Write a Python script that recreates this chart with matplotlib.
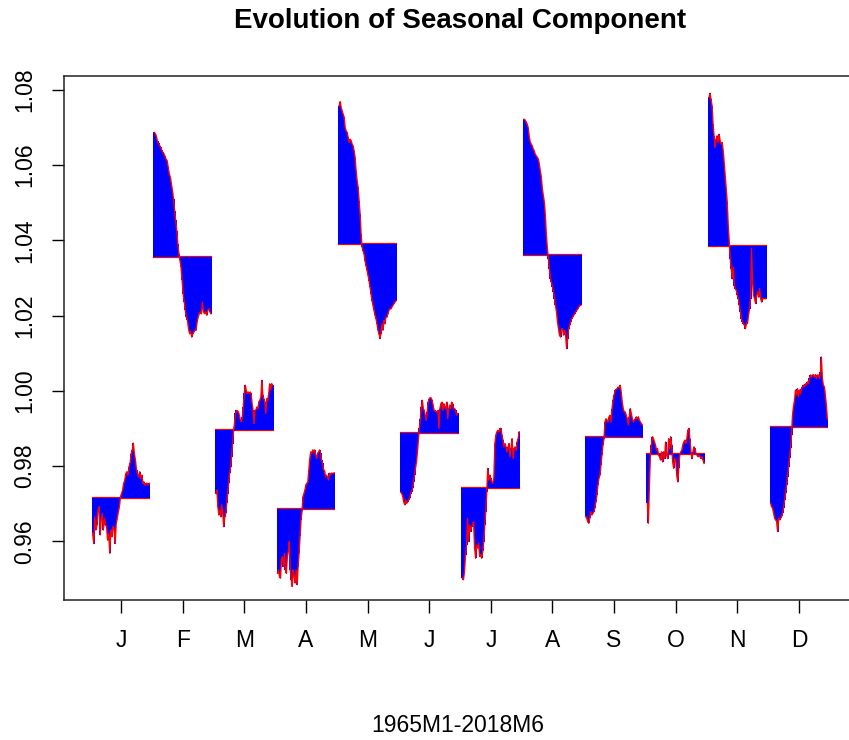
import matplotlib
matplotlib.use("Agg")
import matplotlib.pyplot as plt

plt.rcParams['font.family'] = ['Liberation Sans', 'DejaVu Sans']

months = ["J", "F", "M", "A", "M", "J", "J", "A", "S", "O", "N", "D"]

# mean seasonal factor of each month (base line)
base = [0.9716, 1.0357, 0.9895, 0.9687, 1.0391, 0.9888,
        0.9743, 1.0362, 0.9877, 0.9832, 1.0384, 0.9905]

jan = [0.9621, 0.9594, 0.9665, 0.9630, 0.9643, 0.9683, 0.9692, 0.9617, 0.9656,
       0.9674, 0.9630, 0.9661, 0.9643, 0.9639, 0.9603, 0.9621, 0.9568, 0.9630,
       0.9612, 0.9639, 0.9634, 0.9594, 0.9647, 0.9661, 0.9678, 0.9692, 0.9718,
       0.9727, 0.9736, 0.9754, 0.9762, 0.9780, 0.9785, 0.9776, 0.9798, 0.9807,
       0.9833, 0.9842, 0.9861, 0.9833, 0.9815, 0.9789, 0.9780, 0.9771, 0.9785,
       0.9767, 0.9776, 0.9754, 0.9758, 0.9749, 0.9754, 0.9754, 0.9749, 0.9754]
feb = [1.0687, 1.0684, 1.0676, 1.0663, 1.0658, 1.0652, 1.0647, 1.0640, 1.0634,
       1.0630, 1.0623, 1.0616, 1.0612, 1.0594, 1.0577, 1.0568, 1.0550, 1.0532,
       1.0510, 1.0479, 1.0453, 1.0426, 1.0391, 1.0364, 1.0347, 1.0329, 1.0294,
       1.0258, 1.0236, 1.0214, 1.0196, 1.0188, 1.0165, 1.0152, 1.0157, 1.0143,
       1.0152, 1.0157, 1.0161, 1.0161, 1.0183, 1.0196, 1.0205, 1.0210, 1.0205,
       1.0236, 1.0210, 1.0205, 1.0210, 1.0201, 1.0214, 1.0218, 1.0210, 1.0205]
mar = [0.9727, 0.9736, 0.9692, 0.9670, 0.9683, 0.9665, 0.9697, 0.9674, 0.9639,
       0.9665, 0.9674, 0.9701, 0.9727, 0.9754, 0.9781, 0.9798, 0.9825, 0.9860,
       0.9893, 0.9913, 0.9940, 0.9948, 0.9947, 0.9944, 0.9935, 0.9922, 0.9918,
       0.9931, 0.9957, 0.9993, 1.0015, 1.0002, 0.9993, 0.9997, 0.9993, 0.9997,
       0.9993, 0.9966, 0.9948, 0.9913, 0.9948, 0.9950, 0.9957, 0.9953, 0.9971,
       0.9975, 0.9984, 1.0028, 0.9988, 0.9979, 0.9971, 0.9940, 0.9979, 0.9975,
       0.9993, 1.0019, 1.0002, 1.0019, 1.0015]
apr = [0.9515, 0.9524, 0.9506, 0.9502, 0.9551, 0.9559, 0.9533, 0.9568, 0.9524,
       0.9515, 0.9559, 0.9573, 0.9599, 0.9524, 0.9498, 0.9480, 0.9524, 0.9506,
       0.9489, 0.9524, 0.9485, 0.9533, 0.9568, 0.9613, 0.9657, 0.9680, 0.9719,
       0.9727, 0.9736, 0.9750, 0.9754, 0.9758, 0.9789, 0.9820, 0.9838, 0.9834,
       0.9843, 0.9838, 0.9843, 0.9829, 0.9820, 0.9834, 0.9838, 0.9843, 0.9834,
       0.9816, 0.9807, 0.9789, 0.9789, 0.9772, 0.9776, 0.9772, 0.9763, 0.9781,
       0.9776, 0.9781, 0.9781, 0.9781, 0.9782]
may = [1.0758, 1.0769, 1.0753, 1.0744, 1.0735, 1.0727, 1.0700, 1.0691, 1.0687,
       1.0674, 1.0660, 1.0669, 1.0665, 1.0656, 1.0651, 1.0638, 1.0620, 1.0585,
       1.0559, 1.0541, 1.0506, 1.0470, 1.0417, 1.0382, 1.0373, 1.0364, 1.0346,
       1.0333, 1.0320, 1.0307, 1.0293, 1.0276, 1.0258, 1.0240, 1.0227, 1.0214,
       1.0201, 1.0192, 1.0178, 1.0161, 1.0152, 1.0139, 1.0152, 1.0178, 1.0161,
       1.0187, 1.0178, 1.0196, 1.0196, 1.0205, 1.0214, 1.0218, 1.0218, 1.0223,
       1.0227, 1.0232, 1.0236, 1.0239]
jun = [0.9730, 0.9727, 0.9719, 0.9705, 0.9697, 0.9710, 0.9701, 0.9705, 0.9710,
       0.9714, 0.9727, 0.9732, 0.9741, 0.9758, 0.9776, 0.9794, 0.9811, 0.9838,
       0.9873, 0.9900, 0.9926, 0.9957, 0.9975, 0.9953, 0.9948, 0.9935, 0.9922,
       0.9944, 0.9970, 0.9979, 0.9982, 0.9981, 0.9975, 0.9962, 0.9948, 0.9948,
       0.9944, 0.9944, 0.9948, 0.9900, 0.9953, 0.9966, 0.9970, 0.9948, 0.9966,
       0.9957, 0.9953, 0.9970, 0.9926, 0.9953, 0.9962, 0.9953, 0.9970, 0.9966,
       0.9953, 0.9953, 0.9948, 0.9935, 0.9940]
jul = [0.9502, 0.9498, 0.9520, 0.9564, 0.9590, 0.9661, 0.9599, 0.9643, 0.9626,
       0.9639, 0.9643, 0.9652, 0.9582, 0.9555, 0.9590, 0.9582, 0.9595, 0.9560,
       0.9564, 0.9555, 0.9573, 0.9599, 0.9643, 0.9679, 0.9732, 0.9794, 0.9763,
       0.9776, 0.9767, 0.9758, 0.9754, 0.9767, 0.9860, 0.9882, 0.9891, 0.9895,
       0.9891, 0.9900, 0.9900, 0.9882, 0.9869, 0.9851, 0.9860, 0.9851, 0.9838,
       0.9851, 0.9860, 0.9825, 0.9847, 0.9873, 0.9820, 0.9847, 0.9851, 0.9842,
       0.9864, 0.9873, 0.9891]
aug = [1.0722, 1.0720, 1.0715, 1.0709, 1.0700, 1.0678, 1.0662, 1.0656, 1.0652,
       1.0643, 1.0638, 1.0629, 1.0625, 1.0621, 1.0616, 1.0603, 1.0585, 1.0568,
       1.0537, 1.0519, 1.0501, 1.0466, 1.0413, 1.0378, 1.0351, 1.0324, 1.0298,
       1.0289, 1.0276, 1.0263, 1.0245, 1.0227, 1.0210, 1.0183, 1.0165, 1.0148,
       1.0143, 1.0165, 1.0165, 1.0148, 1.0161, 1.0148, 1.0112, 1.0139, 1.0165,
       1.0174, 1.0183, 1.0192, 1.0196, 1.0201, 1.0205, 1.0210, 1.0214, 1.0218,
       1.0223, 1.0227, 1.0227]
sep = [0.9666, 0.9661, 0.9652, 0.9648, 0.9661, 0.9679, 0.9670, 0.9674, 0.9679,
       0.9688, 0.9705, 0.9723, 0.9749, 0.9767, 0.9776, 0.9802, 0.9829, 0.9856,
       0.9872, 0.9917, 0.9926, 0.9922, 0.9917, 0.9931, 0.9935, 0.9917, 0.9953,
       0.9975, 0.9988, 1.0001, 1.0004, 1.0006, 1.0010, 1.0008, 1.0015, 0.9997,
       0.9971, 0.9953, 0.9944, 0.9944, 0.9935, 0.9926, 0.9909, 0.9931, 0.9953,
       0.9940, 0.9926, 0.9917, 0.9922, 0.9926, 0.9931, 0.9926, 0.9931, 0.9922,
       0.9917, 0.9913, 0.9909]
oct = [0.9701, 0.9648, 0.9749, 0.9829, 0.9856, 0.9878, 0.9873, 0.9864, 0.9856,
       0.9842, 0.9847, 0.9829, 0.9825, 0.9816, 0.9838, 0.9811, 0.9838, 0.9820,
       0.9864, 0.9829, 0.9820, 0.9873, 0.9847, 0.9878, 0.9856, 0.9811, 0.9794,
       0.9820, 0.9816, 0.9776, 0.9758, 0.9794, 0.9829, 0.9838, 0.9842, 0.9856,
       0.9864, 0.9869, 0.9860, 0.9873, 0.9895, 0.9900, 0.9873, 0.9838, 0.9820,
       0.9838, 0.9851, 0.9847, 0.9834, 0.9829, 0.9825, 0.9829, 0.9825, 0.9820,
       0.9825, 0.9816, 0.9807]
nov = [1.0780, 1.0791, 1.0775, 1.0758, 1.0709, 1.0678, 1.0647, 1.0669, 1.0678,
       1.0660, 1.0682, 1.0665, 1.0656, 1.0660, 1.0638, 1.0607, 1.0572, 1.0537,
       1.0501, 1.0439, 1.0395, 1.0351, 1.0324, 1.0298, 1.0329, 1.0280, 1.0272,
       1.0267, 1.0254, 1.0245, 1.0227, 1.0210, 1.0192, 1.0183, 1.0179, 1.0174,
       1.0165, 1.0179, 1.0179, 1.0201, 1.0218, 1.0245, 1.0378, 1.0289, 1.0254,
       1.0245, 1.0232, 1.0254, 1.0263, 1.0249, 1.0272, 1.0245, 1.0236, 1.0245,
       1.0245, 1.0245, 1.0245]
dec = [0.9701, 0.9692, 0.9688, 0.9675, 0.9661, 0.9657, 0.9653, 0.9626, 0.9661,
       0.9657, 0.9661, 0.9666, 0.9675, 0.9688, 0.9710, 0.9728, 0.9750, 0.9772,
       0.9798, 0.9821, 0.9847, 0.9882, 0.9936, 0.9958, 0.9975, 1.0002, 0.9989,
       1.0006, 0.9984, 1.0002, 0.9993, 1.0006, 1.0011, 1.0015, 1.0011, 1.0019,
       1.0015, 1.0024, 1.0019, 1.0033, 1.0042, 1.0037, 1.0042, 1.0043, 1.0037,
       1.0043, 1.0033, 1.0042, 1.0042, 1.0033, 1.0049, 1.0090, 1.0033, 1.0015,
       1.0011, 0.9989, 0.9962, 0.9925]

series = [jan, feb, mar, apr, may, jun, jul, aug, sep, oct, nov, dec]

fig = plt.figure(figsize=(8.49, 7.40), dpi=100)
ax = fig.add_axes([64 / 849, 140 / 740, 792 / 849, 524 / 740])

half = 0.46
for i, (vals, b) in enumerate(zip(series, base)):
    n = len(vals)
    xs = [i + 1 - half + 2 * half * k / (n - 1) for k in range(n)]
    ax.plot([xs[0], xs[-1]], [b, b], color="#FF0000", lw=1.6, zorder=2)
    ax.vlines(xs, b, vals, color="#0000FF", lw=1.2, zorder=3,
              antialiased=False, capstyle="butt")
    ax.plot(xs, vals, color="#FF0000", lw=1.0, zorder=4)

ax.set_xlim(0.075, 12.925)
ax.set_ylim(0.9444, 1.0837)
ax.set_xticks(range(1, 13))
ax.set_xticklabels(months)
yt = [0.96, 0.98, 1.00, 1.02, 1.04, 1.06, 1.08]
ax.set_yticks(yt)
ax.set_yticklabels(["%.2f" % v for v in yt], rotation=90, va="center")
ax.tick_params(axis="both", direction="out", length=9, width=1,
               labelsize=16.5, colors="black")
ax.tick_params(axis="x", pad=12)
ax.tick_params(axis="y", pad=11)
for s in ax.spines.values():
    s.set_linewidth(1.1)
    s.set_color("#222222")

fig.text(460 / 849, 1 - 21 / 740, "Evolution of Seasonal Component",
         ha="center", va="center", fontsize=20, fontweight="bold")
fig.text(458 / 849, 1 - 725 / 740, "1965M1-2018M6",
         ha="center", va="center", fontsize=16.5)

fig.savefig("out.png", dpi=100)
